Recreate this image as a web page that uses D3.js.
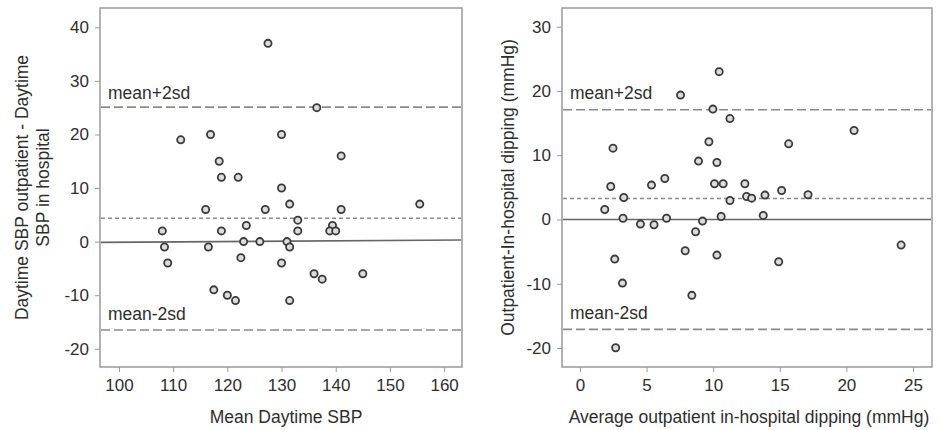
<!DOCTYPE html>
<html>
<head>
<meta charset="utf-8">
<script src="https://cdn.jsdelivr.net/npm/d3@7"></script>
<style>
  body { margin: 0; background: #fff; }
  svg text { font-family: "Liberation Sans", Arial, sans-serif; fill: #2e2e2e; }
  .axis path, .axis line { stroke: #999; }
</style>
</head>
<body>
<div id="chart"></div>
<script>
// left panel: mean daytime SBP vs difference
var sbpMean = [127.5, 136.5, 111.4, 116.9, 130, 118.5, 141, 118.9, 122, 130, 116, 127, 131.5, 141, 155.5,
               133, 108, 118.9, 123.5, 133, 139.4, 138.9, 140, 108.4, 116.5, 123, 126, 131, 131.5,
               109, 122.5, 130, 136, 137.5, 145, 117.5, 120, 121.5, 131.5];
var sbpDiff = [37, 25, 19, 20, 20, 15, 16, 12, 12, 10, 6, 6, 7, 6, 7,
               4, 2, 2, 3, 2, 3, 2, 2, -1, -1, 0, 0, 0, -1,
               -4, -3, -4, -6, -7, -6, -9, -10, -11, -11];
var sbpLimits = {upper: 25.1, mean: 4.35, lower: -16.5};
var sbpFit = [[96.5, -0.15], [163.3, 0.3]];
var sbpXTicks = [100, 110, 120, 130, 140, 150, 160];
var sbpYTicks = [-20, -10, 0, 10, 20, 30, 40];

// right panel: average dipping vs difference
var dipMean = [10.45, 7.55, 9.98, 11.26, 20.58, 2.48, 9.68, 15.67, 8.9, 10.28, 2.31, 5.37, 6.37, 10.1, 10.75,
               12.38, 3.29, 12.51, 12.89, 13.89, 15.14, 17.12, 11.26, 1.86, 3.23, 6.5, 10.6, 13.76,
               4.54, 5.56, 9.2, 8.68, 7.9, 10.28, 2.61, 14.92, 24.11, 3.19, 8.4, 2.68];
var dipDiff = [23, 19.35, 17.17, 15.7, 13.84, 11.1, 12.1, 11.77, 9.08, 8.87, 5.13, 5.35, 6.38, 5.55, 5.55,
               5.55, 3.42, 3.58, 3.32, 3.79, 4.51, 3.84, 2.96, 1.56, 0.2, 0.2, 0.47, 0.63,
               -0.72, -0.82, -0.25, -1.91, -4.87, -5.54, -6.16, -6.58, -3.98, -9.9, -11.8, -19.95];
var dipLimits = {upper: 17.06, mean: 3.27, lower: -17.1};
var dipFit = [[-1.35, 0], [26.43, 0]];
var dipXTicks = [0, 5, 10, 15, 20, 25];
var dipYTicks = [-20, -10, 0, 10, 20, 30];

var svg = d3.select("#chart").append("svg")
    .attr("width", 941)
    .attr("height", 430);

// plain hyphen for negatives, like the original
var tickFmt = function(d){ return String(d); };

function panel(opt) {
    var x = d3.scaleLinear().domain(opt.xDomain).range([opt.left, opt.right]);
    var y = d3.scaleLinear().domain(opt.yDomain).range([opt.bottom, opt.top]);
    var g = svg.append("g");

    // x axis
    var xa = g.append("g")
        .attr("class", "axis")
        .attr("transform", "translate(0," + opt.bottom + ")")
        .call(d3.axisBottom(x).tickValues(opt.xTicks).tickFormat(tickFmt).tickSize(5).tickPadding(7).tickSizeOuter(0));
    xa.select(".domain").remove();
    xa.selectAll("text").style("font-size", "17px");

    // y axis
    var ya = g.append("g")
        .attr("class", "axis")
        .attr("transform", "translate(" + opt.left + ",0)")
        .call(d3.axisLeft(y).tickValues(opt.yTicks).tickFormat(tickFmt).tickSize(5).tickPadding(6).tickSizeOuter(0));
    ya.select(".domain").remove();
    ya.selectAll("text").style("font-size", "17px");

    // frame
    g.append("rect")
        .attr("x", opt.left)
        .attr("y", opt.top)
        .attr("width", opt.right - opt.left)
        .attr("height", opt.bottom - opt.top)
        .style("fill", "none")
        .style("stroke", "#999")
        .style("stroke-width", 1.5);

    // limit lines
    [["upper", "9,4"], ["lower", "9,4"], ["mean", "4,3"]].forEach(function(l){
        g.append("line")
            .attr("x1", opt.left + 1).attr("x2", opt.right - 1)
            .attr("y1", y(opt.limits[l[0]])).attr("y2", y(opt.limits[l[0]]))
            .style("stroke", "#8a8a8a")
            .style("stroke-width", 1.6)
            .style("stroke-dasharray", l[1]);
    });

    g.append("text")
        .attr("x", opt.left + 8)
        .attr("y", y(opt.limits.upper) - opt.labelGap)
        .style("font-size", "17.5px")
        .text("mean+2sd");
    g.append("text")
        .attr("x", opt.left + 8)
        .attr("y", y(opt.limits.lower) - 10)
        .style("font-size", "17.5px")
        .text("mean-2sd");

    // fit line
    g.append("line")
        .attr("x1", x(opt.fit[0][0]) + 1).attr("y1", y(opt.fit[0][1]))
        .attr("x2", x(opt.fit[1][0]) - 1).attr("y2", y(opt.fit[1][1]))
        .style("stroke", "#666")
        .style("stroke-width", 1.6);

    // points
    g.selectAll(".pt")
        .data(opt.xs.map(function(d, i){ return [d, opt.ys[i]]; }))
        .enter().append("circle")
        .attr("class", "pt")
        .attr("cx", function(d){ return x(d[0]); })
        .attr("cy", function(d){ return y(d[1]); })
        .attr("r", 3.6)
        .style("fill", "#dcdcdc")
        .style("stroke", "#3a3a3a")
        .style("stroke-width", 1.8);

    // titles
    g.append("text")
        .attr("x", (opt.left + opt.right) / 2 + opt.xTitleShift)
        .attr("y", 423)
        .attr("text-anchor", "middle")
        .style("font-size", "17.5px")
        .text(opt.xTitle);

    var cy = (opt.top + opt.bottom) / 2;
    opt.yTitle.forEach(function(t, i){
        g.append("text")
            .attr("transform", "translate(" + (opt.yTitleX + i * 21) + "," + cy + ") rotate(-90)")
            .attr("text-anchor", "middle")
            .style("font-size", "17.5px")
            .text(t);
    });
}

panel({
    left: 100, right: 462, top: 8, bottom: 367,
    xDomain: [96.5, 163.3], yDomain: [-23.4, 43.6],
    xTicks: sbpXTicks, yTicks: sbpYTicks,
    xs: sbpMean, ys: sbpDiff, limits: sbpLimits, fit: sbpFit,
    labelGap: 8,
    xTitle: "Mean Daytime SBP", xTitleShift: 5,
    yTitle: ["Daytime SBP outpatient - Daytime", "SBP in hospital"], yTitleX: 28
});

panel({
    left: 562, right: 932, top: 8, bottom: 367,
    xDomain: [-1.35, 26.43], yDomain: [-22.95, 32.9],
    xTicks: dipXTicks, yTicks: dipYTicks,
    xs: dipMean, ys: dipDiff, limits: dipLimits, fit: dipFit,
    labelGap: 11,
    xTitle: "Average outpatient in-hospital dipping (mmHg)", xTitleShift: 2,
    yTitle: ["Outpatient-In-hospital dipping (mmHg)"], yTitleX: 514
});
</script>
</body>
</html>
